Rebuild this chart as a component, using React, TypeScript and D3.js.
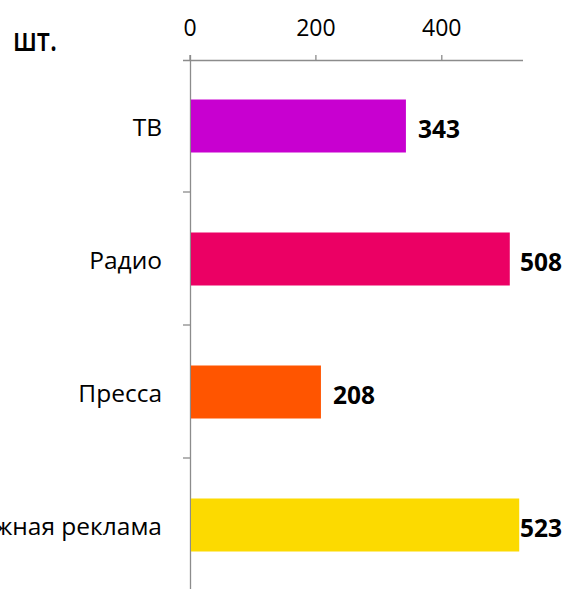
import React from "react";
import * as d3 from "d3";

const categories: string[] = ["ТВ", "Радио", "Пресса", "Наружная реклама"];
const values: number[] = [343, 508, 208, 523];
const colors: string[] = ["#c800d0", "#eb0064", "#ff5500", "#fcda00"];
const tickValues: number[] = [0, 200, 400];
const unitLabel = "шт.";

const width = 567;
const height = 589;
const font = "'Open Sans', sans-serif";

const App = () => {
  var x = d3.scaleLinear().domain([0, 529]).range([190, 523]);
  var band = d3.scaleBand<string>().domain(categories).range([59, 591]);

  return (
    <svg
      width={width}
      height={height}
      style={{ position: "absolute", left: 0, top: 0, background: "#fff" }}
      fontFamily={font}
    >
      <text
        x={13}
        y={51}
        fontSize={32}
        fontWeight={600}
        textLength={44}
        lengthAdjust="spacingAndGlyphs"
        fill="#000"
      >
        {unitLabel}
      </text>

      {/* top axis */}
      <line x1={183} x2={523} y1={60.5} y2={60.5} stroke="#8c8c8c" strokeWidth={1.3} />
      {tickValues.map((t) => (
        <g key={t}>
          <line x1={x(t)} x2={x(t)} y1={55} y2={60.5} stroke="#8c8c8c" strokeWidth={1.3} />
          <text x={x(t)} y={36} fontSize={23} textAnchor="middle" fill="#000">
            {t}
          </text>
        </g>
      ))}

      {/* left axis */}
      <line x1={190.5} x2={190.5} y1={55} y2={591} stroke="#8c8c8c" strokeWidth={1.3} />
      {categories.map((c, i) =>
        i > 0 ? (
          <line
            key={c}
            x1={183}
            x2={190.5}
            y1={band(c)!}
            y2={band(c)!}
            stroke="#8c8c8c"
            strokeWidth={1.3}
          />
        ) : null
      )}

      {categories.map((c, i) => {
        var cy = band(c)! + band.bandwidth() / 2;
        var xEnd = x(values[i]);
        return (
          <g key={c}>
            <rect
              x={x(0) + 1}
              y={cy - 26}
              width={xEnd - x(0) - 1}
              height={53}
              fill={colors[i]}
            />
            <text x={162} y={cy + 10.5} fontSize={24.5} textAnchor="end" fill="#000">
              {c}
            </text>
            <text
              x={Math.min(xEnd + 12, width - 47)}
              y={cy + 12.5}
              fontSize={24.5}
              fontWeight="bold"
              fill="#000"
            >
              {values[i]}
            </text>
          </g>
        );
      })}
    </svg>
  );
};

export default App;
